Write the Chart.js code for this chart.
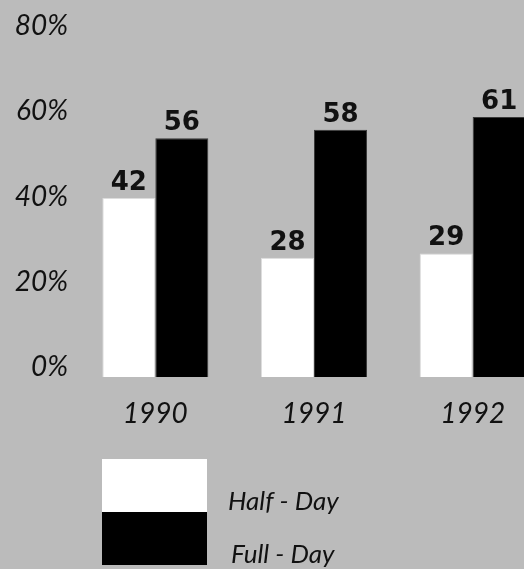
<!DOCTYPE html>
<html>
<head>
<meta charset="utf-8">
<script src="https://cdn.jsdelivr.net/npm/chart.js@4/dist/chart.umd.min.js"></script>
<style>
  html, body { margin: 0; padding: 0; background: #bbbbbb; overflow: hidden; }
  #wrap { width: 524px; height: 569px; overflow: hidden; }
</style>
</head>
<body>
<div id="wrap">
  <canvas id="kinder" width="556" height="569"></canvas>
</div>
<script>
const years = ['1990', '1991', '1992'];
const halfDay = [42, 28, 29];
const fullDay = [56, 58, 61];
const seriesNames = ['Half - Day', 'Full - Day'];
const seriesColors = ['#ffffff', '#000000'];
const yTicks = [0, 20, 40, 60, 80];

const italic = { family: 'Lato', size: 28, style: 'italic', weight: 'normal' };

// value labels above each bar + the stacked two-box key under the axis
const barLabels = {
  id: 'barLabels',
  afterDatasetsDraw(chart) {
    const ctx = chart.ctx;
    ctx.save();
    ctx.font = 'bold 26px "DejaVu Sans"';
    ctx.fillStyle = '#111';
    ctx.textAlign = 'center';
    ctx.textBaseline = 'alphabetic';
    chart.data.datasets.forEach((ds, i) => {
      chart.getDatasetMeta(i).data.forEach((bar, j) => {
        ctx.fillText(String(ds.data[j]), bar.x, bar.y - 8);
      });
    });
    ctx.restore();
  },
  afterDraw(chart) {
    const ctx = chart.ctx;
    const top = chart.chartArea.bottom + 82;
    ctx.save();
    chart.data.datasets.forEach((ds, i) => {
      const y = top + i * 53;
      ctx.fillStyle = ds.backgroundColor;
      ctx.fillRect(102, y, 105, 53);
      ctx.fillStyle = '#111';
      ctx.font = 'italic 26px Lato';
      ctx.textAlign = 'left';
      ctx.textBaseline = 'alphabetic';
      ctx.fillText(ds.label, 228 + i * 3, y + 51);
    });
    ctx.restore();
  }
};

new Chart(document.getElementById('kinder').getContext('2d'), {
  type: 'bar',
  data: {
    labels: years,
    datasets: [
      {
        label: seriesNames[0],
        data: halfDay,
        backgroundColor: seriesColors[0],
        borderColor: '#dddddd',
        borderWidth: 1,
      },
      {
        label: seriesNames[1],
        data: fullDay,
        backgroundColor: seriesColors[1],
        borderColor: '#3a3a3a',
        borderWidth: 1,
      },
    ],
  },
  options: {
    responsive: false,
    animation: false,
    devicePixelRatio: 1,
    layout: { padding: { top: 36, right: 4, left: 0, bottom: 0 } },
    datasets: {
      bar: { categoryPercentage: 0.668, barPercentage: 1.0 },
    },
    scales: {
      x: {
        grid: { display: false, drawTicks: false },
        border: { display: false },
        ticks: { color: '#111', font: italic, padding: 20 },
        afterFit(scale) { scale.height = 192; },
      },
      y: {
        min: 0,
        max: 80,
        afterBuildTicks(scale) { scale.ticks = yTicks.map(v => ({ value: v })); },
        grid: { display: false, drawTicks: false },
        border: { display: false },
        ticks: {
          color: '#111',
          font: italic,
          padding: 8,
          labelOffset: -10,
          callback: v => v + '%',
        },
        afterFit(scale) { scale.width = 76; },
      },
    },
    plugins: {
      legend: { display: false },
      tooltip: { enabled: false },
    },
  },
  plugins: [barLabels],
});
</script>
</body>
</html>
